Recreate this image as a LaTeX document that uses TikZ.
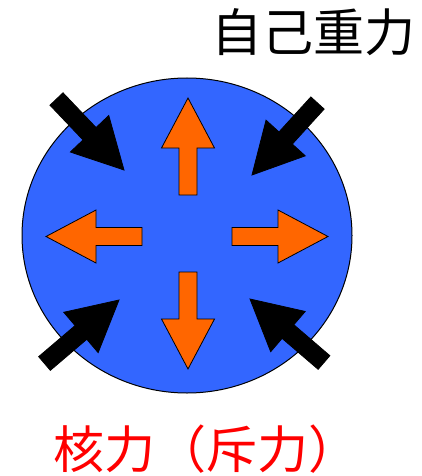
\documentclass[tikz,border=0pt]{standalone}
\usepackage{fontspec}
\newfontfamily\cjk{Noto Sans CJK JP}
\usetikzlibrary{calc}
\definecolor{ballblue}{HTML}{3366FF}
\definecolor{forceorange}{HTML}{FF6600}
\tikzset{
  ball/.style={fill=ballblue,draw=black,line width=1pt},
  gravarrow/.style={fill=black,draw=black,line width=0.8pt,line join=miter},
  nucarrow/.style={fill=forceorange,draw=black,line width=0.8pt,line join=miter},
  bigtext/.style={inner sep=0pt,font=\cjk\fontsize{51}{60}\selectfont}
}
% #1 tail, #2 tip, #3 style
\newcommand\blockarr[3]{%
  \coordinate (bn) at ($(#2)!50pt!(#1)$);
  \draw[#3] ($(#1)!9pt!90:(#2)$) -- ($(bn)!9pt!90:(#2)$) -- ($(bn)!26.5pt!90:(#2)$)
    -- (#2) -- ($(bn)!26.5pt!-90:(#2)$) -- ($(bn)!9pt!-90:(#2)$)
    -- ($(#1)!9pt!-90:(#2)$) -- cycle;
}
\begin{document}
\begin{tikzpicture}[x=1pt,y=-1pt]
\useasboundingbox (0,0) rectangle (422,476);
\draw[ball] (187,235.5) ellipse [x radius=165, y radius=157.5];
% nuclear force arrows (outward)
\coordinate (upT) at (188,195);   \coordinate (upH) at (188,98);
\coordinate (dnT) at (188,272);   \coordinate (dnH) at (188,369);
\coordinate (lfT) at (142,236.5); \coordinate (lfH) at (46,236.5);
\coordinate (rtT) at (232,236.5); \coordinate (rtH) at (328,236.5);
\blockarr{upT}{upH}{nucarrow}
\blockarr{dnT}{dnH}{nucarrow}
\blockarr{lfT}{lfH}{nucarrow}
\blockarr{rtT}{rtH}{nucarrow}
% gravity arrows (inward)
\coordinate (tlT) at (56.5,99);    \coordinate (tlH) at (124,170);
\coordinate (trT) at (317.5,103);  \coordinate (trH) at (252,175);
\coordinate (blT) at (44.5,363.5); \coordinate (blH) at (119,300);
\coordinate (brT) at (324,362.5);  \coordinate (brH) at (250,299);
\blockarr{tlT}{tlH}{gravarrow}
\blockarr{trT}{trH}{gravarrow}
\blockarr{blT}{blH}{gravarrow}
\blockarr{brT}{brH}{gravarrow}
\node[bigtext,text=black] (grav) at (313,32) {自己重力};
\node[bigtext,text=red] (nuc) at (206,449) {核力（斥力）};
\end{tikzpicture}
\end{document}
